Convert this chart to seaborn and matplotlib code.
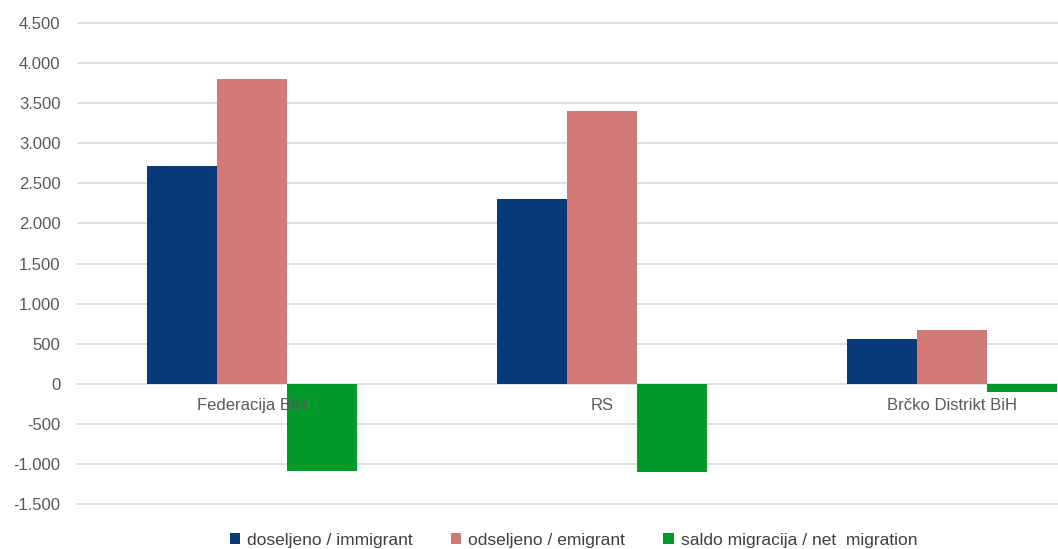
'''Migration bar chart: immigrants, emigrants and net migration by entity.'''

import pandas as pd
import matplotlib.pyplot as plt
import matplotlib.ticker as mticker
import seaborn as sns

# data
regions = ['Federacija BiH', 'RS', 'Brčko Distrikt BiH']
series = ['doseljeno / immigrant', 'odseljeno / emigrant', 'saldo migracija / net  migration']
immigrant = [2718, 2307, 557]
emigrant = [3800, 3408, 665]
net_migration = [-1082, -1101, -108]
colors = ['#083a7b', '#d27a78', '#009a2b']

df = pd.DataFrame({
    'region': regions * 3,
    'series': [s for s in series for _ in regions],
    'value': immigrant + emigrant + net_migration,
})

#set style
sns.set_theme(style="white")
plt.rcParams['font.family'] = ['Liberation Sans', 'DejaVu Sans']

fig = plt.figure(figsize=(10.58, 5.49), dpi=100)
ax = fig.add_axes([77 / 1058, 1 - 505 / 549, 1050 / 1058, 483 / 549])

sns.barplot(data=df, x='region', y='value', hue='series', hue_order=series,
            order=regions, palette=colors, saturation=1, width=0.6,
            linewidth=0, ax=ax)

ax.set_ylim(-1512, 4512)
ax.set_xlim(-0.5, 2.5)
ax.yaxis.set_major_locator(mticker.MultipleLocator(500))
ax.yaxis.set_major_formatter(mticker.FuncFormatter(
    lambda v, p: f'{int(v):,}'.replace(',', '.')))
ax.grid(axis='y', color='#d9d9d9', linewidth=1.2)
ax.set_axisbelow(True)
for s in ax.spines.values():
    s.set_visible(False)

ax.set_xlabel('')
ax.set_ylabel('')
ax.tick_params(axis='y', length=0, pad=12, labelsize=12, labelcolor='#595959')

# category labels sit just below the zero line, drawn over the bars
ax.set_xticks([])
for i, r in enumerate(regions):
    ax.text(i, -265, r, ha='center', va='center', fontsize=12,
            color='#595959', zorder=10)

handles, labels = ax.get_legend_handles_labels()
ax.get_legend().remove()
fig.legend(handles, labels, loc='center', bbox_to_anchor=(0.542, 0.016),
           ncol=3, frameon=False, fontsize=12.5, handlelength=0.6,
           handleheight=0.6, handletextpad=0.4, columnspacing=2.2,
           labelcolor='#404040')

plt.savefig('out.png', dpi=100)
plt.close()
